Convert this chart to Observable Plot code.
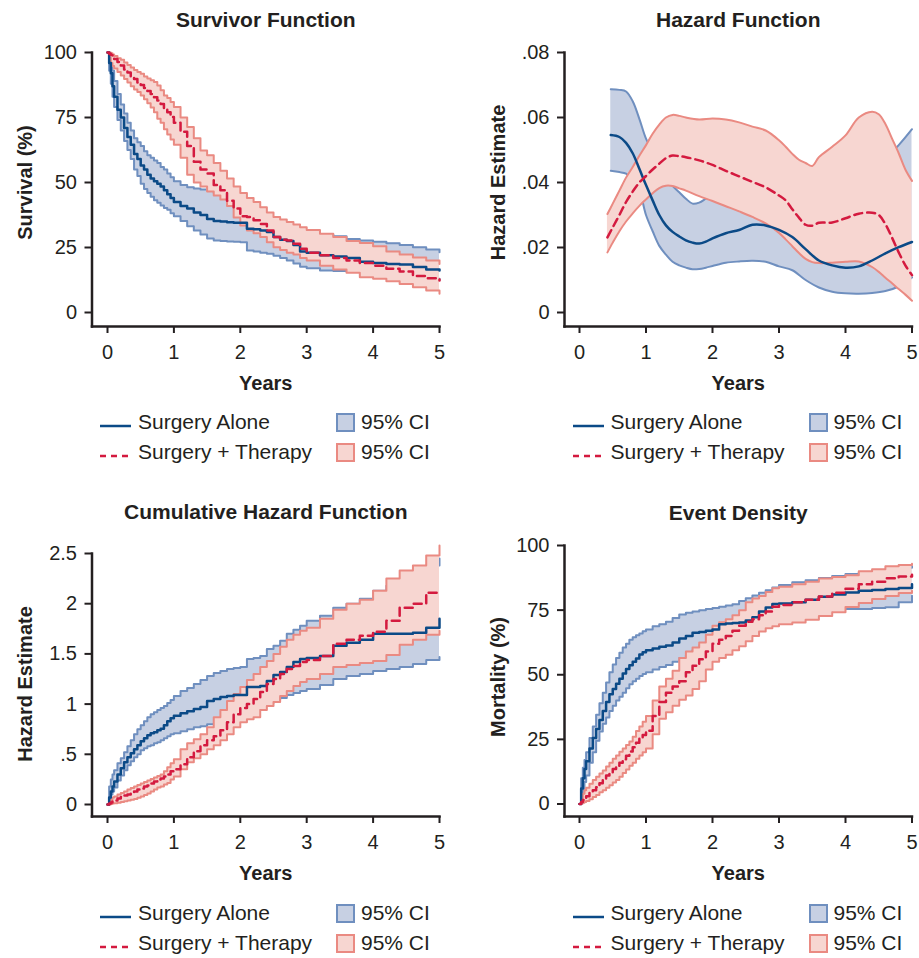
<!DOCTYPE html>
<html>
<head>
<meta charset="utf-8">
<script src="https://cdn.jsdelivr.net/npm/d3@7"></script>
<script src="https://cdn.jsdelivr.net/npm/@observablehq/plot@0.6"></script>
<style>
  body { margin: 0; background: #fff; }
  #root { position: relative; width: 919px; height: 958px; overflow: hidden; font-family: "Liberation Sans", Arial, Helvetica, sans-serif; color: #231f20; }
  #root svg.plot { position: absolute; }
  .lg { position: absolute; font-size: 21px; line-height: 26px; white-space: nowrap; color: #231f20; }
  .sw { position: absolute; }
</style>
</head>
<body>
<div id="root"></div>
<script>
// ---------- labels ----------
const titles = ["Survivor Function", "Hazard Function", "Cumulative Hazard Function", "Event Density"];
const yLabels = ["Survival (%)", "Hazard Estimate", "Hazard Estimate", "Mortality (%)"];
const xLabel = "Years";
const seriesNames = ["Surgery Alone", "Surgery + Therapy"];
const ciLabel = "95% CI";

// ---------- ticks ----------
const xTicks = [0, 1, 2, 3, 4, 5];
const survTicks = [0, 25, 50, 75, 100];
const hazTicks = [0, 0.02, 0.04, 0.06, 0.08];
const cumTicks = [0, 0.5, 1, 1.5, 2, 2.5];
const evTicks = [0, 25, 50, 75, 100];

// ---------- time grid for the step (Kaplan-Meier type) panels ----------
const years = [0, 0.025, 0.05, 0.075, 0.1, 0.15, 0.2, 0.25, 0.3, 0.35, 0.4, 0.45, 0.5, 0.55, 0.6, 0.65, 0.7, 0.75, 0.8, 0.85, 0.9, 0.95,
  1.0, 1.1, 1.2, 1.3, 1.4, 1.5, 1.6, 1.7, 1.8, 1.9,
  2.0, 2.1, 2.2, 2.3, 2.4, 2.5, 2.6, 2.7, 2.8, 2.9,
  3.0, 3.2, 3.4, 3.6, 3.8,
  4.0, 4.2, 4.4, 4.6, 4.8, 5.0];

// Survivor function (%)
const survAlone = [100, 96, 92, 87, 83, 78, 75, 71, 67.5, 64.5, 61, 59, 56.5, 55, 53, 51.5, 50.5, 49.5, 48.5, 47, 45.5, 44,
  42.5, 41, 40, 38.5, 37.5, 36, 35.2, 35, 34.7, 34.5,
  34.5, 32.2, 32, 31.5, 31, 29, 28, 27.5, 26, 23.5,
  23, 22, 21.5, 21, 19.5,
  19, 18.7, 18.5, 17.5, 16.5, 16.2];
const survAloneHi = [100, 99, 96, 93, 89, 84, 80, 76.5, 73, 70, 67, 65.5, 64, 62, 60.5, 59.5, 58.5, 57.5, 56, 55, 53.5, 52,
  50.5, 49, 48.2, 47.7, 47.3, 47, 46, 45.5, 44.5, 43.5,
  40, 38.5, 37.8, 36.5, 36, 35.5, 34.5, 33.5, 32.8, 31.5,
  30.9, 30, 29.3, 28.3, 27.7,
  27.2, 26.6, 26, 25.1, 24.2, 23.2];
const survAloneLo = [100, 93, 88, 83, 79, 74, 70, 66, 62.5, 59, 55, 52.5, 49.5, 47.5, 46, 44.5, 43.2, 42.2, 41.2, 40.2, 39.5, 38.2,
  37, 35.2, 33.2, 31.5, 30, 28.5, 27.7, 27.5, 27.3, 27.2,
  27, 23.8, 23.5, 23, 22.6, 21.8, 21, 20, 18.8, 17.6,
  17, 16.2, 16, 15.8, 15.5,
  15.2, 14.8, 14.3, 13.6, 13, 12.5];
const survTher = [100, 99.5, 99, 98.3, 97.5, 96.3, 95, 93.5, 92.3, 90.8, 89.8, 88.5, 87.5, 86.3, 85.2, 84, 82.8, 81.5, 80.2, 78.5, 77, 75.2,
  73, 69.5, 64, 58, 55, 53.5, 49, 47, 43, 40,
  37, 36.7, 35.5, 34, 31.5, 29, 28, 27.7, 26.4, 24.5,
  23, 22, 21, 20, 19,
  18, 16.8, 15.8, 14, 13.2, 12.3];
const survTherHi = [100, 100, 99.7, 99.2, 98.7, 97.8, 97.2, 96.2, 95.2, 94.2, 93.3, 92.5, 91.8, 90.8, 90, 89.3, 88.7, 87.3, 85.5, 83.5, 82.5, 81,
  79, 75, 71.3, 67, 62.3, 60.5, 57.5, 54.5, 51.5, 48.5,
  46, 44, 42.5, 40.5, 38.5, 36.7, 35.8, 34.8, 33.8, 32.8,
  31.7, 30.3, 29, 27.5, 26.7,
  25.5, 23.5, 22.3, 21.2, 20, 18.7];
const survTherLo = [100, 98, 96, 94.8, 93.8, 92.5, 91.2, 89.8, 88.5, 87, 85.8, 84.8, 83.5, 82, 80.5, 78.8, 77, 74.5, 73, 70.5, 68.5, 66.5,
  64.5, 59.5, 53, 50, 48.5, 46.5, 45, 43.5, 41, 36.5,
  33.5, 31.5, 30.5, 29, 27, 25.1, 24, 23, 22.3, 21,
  20, 18, 16.5, 15.3, 13.6,
  13, 12, 11, 9.7, 8.5, 7.2];

// Cumulative hazard
const cumAlone = [0, 0.07, 0.13, 0.18, 0.23, 0.3, 0.36, 0.42, 0.47, 0.51, 0.55, 0.59, 0.63, 0.66, 0.69, 0.71, 0.72, 0.74, 0.755, 0.79, 0.83, 0.86,
  0.885, 0.91, 0.93, 0.95, 0.97, 1.03, 1.05, 1.07, 1.08, 1.09,
  1.09, 1.17, 1.17, 1.18, 1.23, 1.29, 1.32, 1.37, 1.42, 1.45,
  1.46, 1.48, 1.58, 1.61, 1.64,
  1.70, 1.70, 1.70, 1.71, 1.76, 1.85];
const cumAloneHi = [0, 0.18, 0.25, 0.3, 0.34, 0.41, 0.46, 0.52, 0.58, 0.64, 0.7, 0.75, 0.79, 0.83, 0.87, 0.9, 0.92, 0.94, 0.96, 0.98, 1.01, 1.04,
  1.08, 1.13, 1.16, 1.2, 1.24, 1.28, 1.31, 1.33, 1.35, 1.36,
  1.37, 1.45, 1.46, 1.48, 1.55, 1.58, 1.63, 1.70, 1.74, 1.78,
  1.83, 1.88, 1.96, 2.00, 2.05,
  2.13, 2.18, 2.25, 2.32, 2.38, 2.45];
const cumAloneLo = [0, 0.05, 0.1, 0.13, 0.17, 0.24, 0.29, 0.34, 0.39, 0.43, 0.47, 0.5, 0.54, 0.56, 0.58, 0.59, 0.61, 0.62, 0.64, 0.66, 0.68, 0.7,
  0.71, 0.73, 0.75, 0.77, 0.78, 0.8, 0.81, 0.82, 0.85, 0.88,
  0.90, 0.93, 0.95, 0.98, 1.01, 1.04, 1.06, 1.09, 1.11, 1.13,
  1.15, 1.19, 1.25, 1.28, 1.30,
  1.33, 1.35, 1.37, 1.40, 1.44, 1.47];
const cumTher = [0, 0.01, 0.02, 0.03, 0.04, 0.06, 0.075, 0.09, 0.1, 0.12, 0.13, 0.15, 0.16, 0.18, 0.19, 0.21, 0.23, 0.25, 0.26, 0.28, 0.3, 0.33,
  0.35, 0.4, 0.47, 0.53, 0.59, 0.64, 0.68, 0.74, 0.82, 0.90,
  0.96, 1.0, 1.05, 1.12, 1.20, 1.25, 1.30, 1.35, 1.38, 1.42,
  1.44, 1.48, 1.60, 1.64, 1.68,
  1.72, 1.83, 1.96, 2.00, 2.11, 2.11];
const cumTherHi = [0, 0.03, 0.05, 0.07, 0.08, 0.1, 0.115, 0.13, 0.15, 0.165, 0.18, 0.195, 0.21, 0.225, 0.24, 0.255, 0.27, 0.285, 0.3, 0.33, 0.37, 0.41,
  0.45, 0.55, 0.61, 0.65, 0.7, 0.77, 0.87, 0.94, 1.03, 1.10,
  1.17, 1.24, 1.30, 1.37, 1.43, 1.50, 1.57, 1.64, 1.69, 1.73,
  1.76, 1.85, 1.94, 2.00, 2.04,
  2.13, 2.25, 2.33, 2.38, 2.48, 2.58];
const cumTherLo = [0, 0, 0.005, 0.01, 0.012, 0.018, 0.025, 0.032, 0.04, 0.048, 0.056, 0.068, 0.08, 0.095, 0.11, 0.13, 0.15, 0.17, 0.18, 0.2, 0.215, 0.25,
  0.28, 0.35, 0.42, 0.46, 0.5, 0.55, 0.59, 0.64, 0.70, 0.77,
  0.82, 0.85, 0.87, 0.94, 0.98, 1.02, 1.08, 1.13, 1.18, 1.22,
  1.25, 1.30, 1.37, 1.39, 1.41,
  1.43, 1.49, 1.59, 1.64, 1.69, 1.73];

// Event density / mortality (%)
const evAlone = [0, 6, 10, 13.5, 16.5, 21.5, 25.5, 29, 32.5, 36, 39.5, 42.5, 44.5, 46.5, 48.5, 50.5, 52.2, 53.7, 55, 56.3, 57.8, 58.7,
  59.5, 60.2, 60.8, 61.3, 62.5, 64, 65, 66.2, 66.5, 67,
  67.5, 69.5, 69.8, 70, 70.2, 71, 72.2, 74.5, 76, 77.4,
  77.6, 78, 79, 80.2, 81,
  81.8, 82.5, 82.8, 83.2, 83.6, 85];
const evAloneHi = [0, 10, 14, 17, 20, 25.5, 30, 34.5, 39, 43, 47, 51, 54, 56.5, 58.5, 60.5, 62, 63.5, 64.5, 65.3, 66, 66.8,
  67.5, 68.8, 69.5, 70.5, 72, 73.3, 74, 74.5, 75, 75.4,
  75.8, 76.3, 76.8, 77.3, 78.5, 79.6, 80.7, 81.7, 82.7, 83.8,
  84.7, 85.8, 86.6, 87.4, 88.2,
  89, 89.6, 90.2, 90.8, 91.4, 92];
const evAloneLo = [0, 3, 5.5, 8.5, 11, 16, 20, 24.5, 28, 31, 33.5, 36, 38, 40, 41.5, 43, 44.8, 46.3, 47.5, 48.5, 49.5, 50.3,
  51, 52, 53, 53.8, 55, 56.5, 57.5, 59.5, 61.5, 63,
  64.2, 65, 65.7, 66.2, 67, 68, 69.4, 70.3, 71.3, 72,
  72.5, 73.5, 74.2, 74.8, 75.3,
  75.4, 75.4, 75.8, 76.1, 78, 80.6];
const evTher = [0, 0.8, 1.5, 2.3, 3, 4.3, 5.3, 6.5, 8, 9.5, 11, 12.3, 13.5, 14.8, 16, 17.3, 18.7, 20.3, 22, 23.7, 25.3, 26.7,
  28.3, 34, 39.5, 43, 45.5, 47.5, 51, 53.5, 56, 59,
  62, 63.5, 65, 67, 69, 70.5, 71.5, 73, 74.5, 76.3,
  77, 78, 79, 80.3, 81.7,
  83.3, 85, 86, 87.3, 88, 88.7];
const evTherHi = [0, 2, 4, 5.3, 6.3, 7.8, 9.3, 10.5, 11.8, 13, 14.5, 16, 17.5, 18.8, 20.2, 21.5, 22.8, 24.2, 26, 28.2, 30, 31.8,
  34, 40, 45.5, 48.5, 51.5, 56.5, 59, 60.5, 62.5, 65.5,
  69, 70.3, 71.5, 73, 75, 78, 79.5, 80.5, 82, 83.5,
  84, 85, 86, 87.2, 87.8,
  88.5, 90, 90.8, 92, 92.5, 92.9];
const evTherLo = [0, 0.2, 0.5, 0.8, 1.2, 1.8, 2.7, 3.5, 4.5, 5.3, 6.3, 7.3, 8.3, 9.3, 10.5, 12, 13.3, 14.8, 16, 17.5, 18.8, 20,
  21.5, 27, 33, 35.5, 38, 40.3, 42, 44.5, 47.5, 52,
  55, 56.5, 57.7, 59.5, 61, 63, 65, 66.7, 68, 68.8,
  69.5, 70.2, 71.3, 72.7, 74.2,
  76.2, 77.8, 79.3, 80.5, 81.6, 82.5];

// Smoothed hazard function
const hazYearsAlone = [0.47, 0.6, 0.7, 0.8, 0.9, 1.0, 1.1, 1.2, 1.3, 1.4, 1.5, 1.6, 1.7, 1.8, 1.9,
  2.0, 2.2, 2.4, 2.6, 2.8, 3.0, 3.2, 3.4, 3.6, 3.8, 4.0, 4.2, 4.4, 4.6, 4.8, 5.0];
const hazAlone = [0.0546, 0.0540, 0.0522, 0.0490, 0.0442, 0.0392, 0.0345, 0.0300, 0.0268, 0.0248,
  0.0234, 0.0222, 0.0215, 0.0212, 0.0218, 0.0228, 0.0244, 0.0254, 0.0270, 0.0268,
  0.0254, 0.0232, 0.0195, 0.0160, 0.0145, 0.0138, 0.0142, 0.0160, 0.0182, 0.0201, 0.0217];
const hazAloneHi = [0.0687, 0.0685, 0.0680, 0.0650, 0.0596, 0.0535, 0.0495, 0.0454, 0.0418, 0.0390,
  0.0370, 0.0350, 0.0335, 0.0338, 0.0350, 0.0362, 0.0375, 0.0380, 0.0380, 0.0378,
  0.0375, 0.0370, 0.0365, 0.0370, 0.0385, 0.0405, 0.0425, 0.0445, 0.0475, 0.0515, 0.0564];
const hazAloneLo = [0.0436, 0.0432, 0.0427, 0.0405, 0.0375, 0.0300, 0.0250, 0.0205, 0.0178, 0.0156,
  0.0145, 0.0138, 0.0133, 0.0134, 0.0138, 0.0143, 0.0153, 0.0157, 0.0159, 0.0156,
  0.0142, 0.0130, 0.0100, 0.0077, 0.0064, 0.0059, 0.0058, 0.0060, 0.0066, 0.0080, 0.0108];
const hazYearsTher = [0.42, 0.5, 0.6, 0.7, 0.8, 0.9, 1.0, 1.1, 1.2, 1.3, 1.4, 1.5, 1.6, 1.8, 2.0,
  2.2, 2.4, 2.6, 2.8, 3.0, 3.1, 3.2, 3.3, 3.4, 3.5, 3.6, 3.8, 4.0, 4.2, 4.4, 4.5, 4.6, 4.7, 4.8, 4.9, 5.0];
const hazTher = [0.0231, 0.0262, 0.0300, 0.0340, 0.0372, 0.0400, 0.0420, 0.0440, 0.0458, 0.0475,
  0.0483, 0.0481, 0.0478, 0.0468, 0.0454, 0.0436, 0.0419, 0.0402, 0.0385, 0.0360,
  0.0345, 0.0318, 0.0292, 0.0270, 0.0267, 0.0276, 0.0277, 0.0290, 0.0304, 0.0307,
  0.0300, 0.0272, 0.0230, 0.0185, 0.0145, 0.0115];
const hazTherHi = [0.0303, 0.0335, 0.0375, 0.0415, 0.0448, 0.0482, 0.0515, 0.0550, 0.0578, 0.0600,
  0.0608, 0.0605, 0.0600, 0.0594, 0.0597, 0.0594, 0.0585, 0.0572, 0.0560, 0.0530,
  0.0510, 0.0488, 0.0470, 0.0460, 0.0451, 0.0478, 0.0510, 0.0545, 0.0600, 0.0618,
  0.0610, 0.0580, 0.0535, 0.0490, 0.0440, 0.0405];
const hazTherLo = [0.0185, 0.0215, 0.0250, 0.0280, 0.0305, 0.0328, 0.0348, 0.0367, 0.0383, 0.0390,
  0.0389, 0.0382, 0.0375, 0.0358, 0.0343, 0.0327, 0.0311, 0.0294, 0.0274, 0.0245,
  0.0225, 0.0204, 0.0183, 0.0165, 0.0155, 0.0152, 0.0153, 0.0156, 0.0157, 0.0140,
  0.0125, 0.0107, 0.0090, 0.0072, 0.0055, 0.0036];

// ---------- colours ----------
const INK = "#231f20";
const BLUE = "#0b4a87", BLUE_FILL = "#c7d0e3", BLUE_EDGE = "#6f8fbf";
const RED = "#d41a3f", RED_FILL = "#f7d6d1", RED_EDGE = "#ea8a82";
const DASH = "8,5";

const rows = (xs, v, lo, hi) => xs.map((x, i) => ({x, v: v[i], lo: lo[i], hi: hi[i]}));
const fmtLead = d => d === 0 ? "0" : String(d).replace(/^0\./, ".");
const fmtHaz = d => d === 0 ? "0" : d3.format(".2f")(d).replace(/^0\./, ".");

const root = document.getElementById("root");

function panel(p) {
  const W = p.width, H = p.height;
  const svg = Plot.plot({
    width: W, height: H,
    marginLeft: p.frameLeft - p.left,
    marginRight: (p.left + W) - p.frameRight,
    marginTop: p.frameTop - p.top,
    marginBottom: (p.top + H) - p.frameBottom,
    style: {fontSize: "20px", fontFamily: "'Liberation Sans', Arial, Helvetica, sans-serif", color: INK, background: "transparent", overflow: "visible"},
    x: {domain: [0, 5], insetLeft: p.insetLeft, label: null},
    y: {domain: p.yDomain, insetBottom: p.insetBottom, label: null},
    marks: [
      Plot.areaY(p.blue, {x: "x", y1: "lo", y2: "hi", curve: p.curve, fill: BLUE_FILL}),
      Plot.line(p.blue, {x: "x", y: "lo", curve: p.curve, stroke: BLUE_EDGE, strokeWidth: 2}),
      Plot.line(p.blue, {x: "x", y: "hi", curve: p.curve, stroke: BLUE_EDGE, strokeWidth: 2}),
      Plot.areaY(p.red, {x: "x", y1: "lo", y2: "hi", curve: p.curve, fill: RED_FILL}),
      Plot.line(p.red, {x: "x", y: "lo", curve: p.curve, stroke: RED_EDGE, strokeWidth: 2}),
      Plot.line(p.red, {x: "x", y: "hi", curve: p.curve, stroke: RED_EDGE, strokeWidth: 2}),
      Plot.line(p.blue, {x: "x", y: "v", curve: p.curve, stroke: BLUE, strokeWidth: 2.5}),
      Plot.line(p.red, {x: "x", y: "v", curve: p.curve, stroke: RED, strokeWidth: 2.5, strokeDasharray: DASH}),
      Plot.frame({anchor: "left", stroke: INK, strokeWidth: 2.5}),
      Plot.frame({anchor: "bottom", stroke: INK, strokeWidth: 2.5}),
      Plot.axisX({ticks: xTicks, tickFormat: d => String(d), tickSize: 7, tickPadding: 11, strokeWidth: 2, stroke: INK, fill: INK, label: null}),
      Plot.axisY({ticks: p.yTicks, tickFormat: p.yFormat, tickSize: 7, tickPadding: 8, strokeWidth: 2, stroke: INK, fill: INK, label: null}),
      Plot.text([p.title], {text: d => d, frameAnchor: "top", dy: p.titleDy, fontWeight: "bold", fontSize: 21, fill: INK, lineAnchor: "middle", textAnchor: "middle"}),
      Plot.text([xLabel], {text: d => d, frameAnchor: "bottom", dy: 57, fontWeight: "bold", fontSize: 20, fill: INK, lineAnchor: "middle", textAnchor: "middle"}),
      Plot.text([p.ylabel], {text: d => d, frameAnchor: "left", dx: -66, dy: p.ylabelDy, rotate: -90, fontWeight: "bold", fontSize: 20, fill: INK, lineAnchor: "middle", textAnchor: "middle"})
    ]
  });
  svg.classList.add("plot");
  svg.style.left = p.left + "px";
  svg.style.top = p.top + "px";
  root.appendChild(svg);

  // legend
  const x0 = p.frameLeft + 8.5;
  const ys = [p.legendY, p.legendY + 30];
  const lineSw = (y, color, dash) => {
    const d = document.createElement("div");
    d.className = "sw";
    d.style.left = x0 + "px"; d.style.top = (y - 5) + "px";
    d.innerHTML = `<svg width="32" height="10"><line x1="0" x2="31" y1="5" y2="5" stroke="${color}" stroke-width="2.5" ${dash ? `stroke-dasharray="${dash}"` : ""}/></svg>`;
    root.appendChild(d);
  };
  const box = (y, fill, edge) => {
    const d = document.createElement("div");
    d.className = "sw";
    d.style.left = (x0 + 236) + "px"; d.style.top = (y - 9) + "px";
    d.innerHTML = `<svg width="19" height="19"><rect x="1" y="1" width="17" height="17" fill="${fill}" stroke="${edge}" stroke-width="2"/></svg>`;
    root.appendChild(d);
  };
  const label = (x, y, t) => {
    const d = document.createElement("div");
    d.className = "lg";
    d.style.left = x + "px"; d.style.top = (y - 13) + "px";
    d.textContent = t;
    root.appendChild(d);
  };
  lineSw(ys[0], BLUE, null);
  label(x0 + 38, ys[0], seriesNames[0]);
  lineSw(ys[1], RED, "6,5");
  label(x0 + 38, ys[1], seriesNames[1]);
  box(ys[0], BLUE_FILL, BLUE_EDGE);
  label(x0 + 261, ys[0], ciLabel);
  box(ys[1], RED_FILL, RED_EDGE);
  label(x0 + 261, ys[1], ciLabel);
}

const stepCurve = "step-after";

panel({
  left: 0, top: 0, width: 460, height: 400,
  frameLeft: 91.5, frameRight: 439, frameTop: 52, frameBottom: 326,
  insetLeft: 15.5, insetBottom: 14,
  yDomain: [0, 100], yTicks: survTicks, yFormat: d => String(d),
  title: titles[0], titleDy: -32, ylabel: yLabels[0], ylabelDy: -7,
  curve: stepCurve,
  blue: rows(years, survAlone, survAloneLo, survAloneHi),
  red: rows(years, survTher, survTherLo, survTherHi),
  legendY: 422
});

panel({
  left: 460, top: 0, width: 459, height: 400,
  frameLeft: 564, frameRight: 911.5, frameTop: 52, frameBottom: 326,
  insetLeft: 15, insetBottom: 14,
  yDomain: [0, 0.08], yTicks: hazTicks, yFormat: fmtHaz,
  title: titles[1], titleDy: -32, ylabel: yLabels[1], ylabelDy: -7,
  curve: "catmull-rom",
  blue: rows(hazYearsAlone, hazAlone, hazAloneLo, hazAloneHi),
  red: rows(hazYearsTher, hazTher, hazTherLo, hazTherHi),
  legendY: 422
});

panel({
  left: 0, top: 490, width: 460, height: 410,
  frameLeft: 91.5, frameRight: 439, frameTop: 553, frameBottom: 816,
  insetLeft: 15.5, insetBottom: 12,
  yDomain: [0, 2.5], yTicks: cumTicks, yFormat: fmtLead,
  title: titles[2], titleDy: -41, ylabel: yLabels[2], ylabelDy: -1,
  curve: stepCurve,
  blue: rows(years, cumAlone, cumAloneLo, cumAloneHi),
  red: rows(years, cumTher, cumTherLo, cumTherHi),
  legendY: 913
});

panel({
  left: 460, top: 490, width: 459, height: 410,
  frameLeft: 564, frameRight: 911.5, frameTop: 545, frameBottom: 816,
  insetLeft: 15, insetBottom: 12.5,
  yDomain: [0, 100], yTicks: evTicks, yFormat: d => String(d),
  title: titles[3], titleDy: -32, ylabel: yLabels[3], ylabelDy: -4,
  curve: stepCurve,
  blue: rows(years, evAlone, evAloneLo, evAloneHi),
  red: rows(years, evTher, evTherLo, evTherHi),
  legendY: 913
});
</script>
</body>
</html>
